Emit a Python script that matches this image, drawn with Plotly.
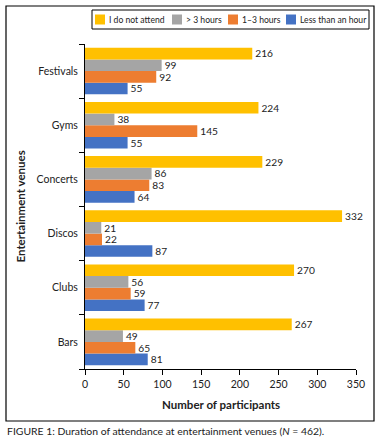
import plotly.graph_objects as go

venues = ["Festivals", "Gyms", "Concerts", "Discos", "Clubs", "Bars"]
series_names = ["I do not attend", "> 3 hours", "1\u20133 hours", "Less than an hour"]
not_attend = [216, 224, 229, 332, 270, 267]
over3 = [99, 38, 86, 21, 56, 49]
one_to_three = [92, 145, 83, 22, 59, 65]
less_hour = [55, 55, 64, 87, 77, 81]
x_ticks = [0, 50, 100, 150, 200, 250, 300, 350]

colors = ["#FFC000", "#A5A5A5", "#ED7D31", "#4472C4"]
values = [not_attend, over3, one_to_three, less_hour]

W, H = 382, 441
L, R, T, B = 85, 26, 44, 72
pw, ph = W - L - R, H - T - B

def px_x(p):
    return (p - L) / pw

def px_y(p):
    return (H - B - p) / ph

FONT = "Lato, Carlito, 'Open Sans', sans-serif"
TXT = "#222222"

fig = go.Figure()
# plotly draws first trace at bottom of each group -> add in reverse
for name, vals, col in reversed(list(zip(series_names, values, colors))):
    fig.add_trace(go.Bar(
        y=venues, x=vals, name=name, orientation="h",
        marker=dict(color=col, line=dict(width=0)),
        text=[str(v) for v in vals], textposition="outside",
        textfont=dict(size=10.5, color=TXT, family=FONT),
        cliponaxis=False, showlegend=False,
    ))

shapes = [dict(
    type="rect", xref="paper", yref="paper",
    x0=px_x(6), x1=px_x(374), y0=px_y(421), y1=px_y(6),
    line=dict(color="black", width=1.2), fillcolor="rgba(0,0,0,0)", layer="below",
), dict(
    type="rect", xref="paper", yref="paper",
    x0=px_x(92), x1=px_x(369), y0=px_y(29), y1=px_y(10),
    line=dict(color="black", width=1), fillcolor="rgba(0,0,0,0)",
)]
annotations = []
legend_sq_x = [95, 172, 228, 286]
for name, col, sx in zip(series_names, colors, legend_sq_x):
    shapes.append(dict(
        type="rect", xref="paper", yref="paper",
        x0=px_x(sx), x1=px_x(sx + 10), y0=px_y(24.5), y1=px_y(14.5),
        line=dict(width=0), fillcolor=col,
    ))
    annotations.append(dict(
        text=name, xref="paper", yref="paper", x=px_x(sx + 12), y=px_y(19.5),
        xanchor="left", yanchor="middle", showarrow=False,
        font=dict(size=8.6, family=FONT, color=TXT),
    ))

annotations += [
    dict(text="<b>Number of participants</b>", xref="paper", yref="paper",
         x=0.5, y=px_y(404), xanchor="center", yanchor="middle",
         showarrow=False, font=dict(size=11.5, family=FONT, color=TXT)),
    dict(text="<b>Entertainment venues</b>", xref="paper", yref="paper",
         x=px_x(20), y=0.5, xanchor="center", yanchor="middle", textangle=-90,
         showarrow=False, font=dict(size=11.5, family=FONT, color=TXT)),
    dict(text="FIGURE 1: Duration of attendance at entertainment venues (<i>N</i> = 462).",
         xref="paper", yref="paper", x=px_x(5), y=px_y(431),
         xanchor="left", yanchor="middle", showarrow=False,
         font=dict(size=10.4, family=FONT, color=TXT)),
]

fig.update_layout(
    width=W, height=H,
    margin=dict(l=L, r=R, t=T, b=B, autoexpand=False),
    barmode="group", bargap=0.14, bargroupgap=0,
    plot_bgcolor="white", paper_bgcolor="white",
    font=dict(family=FONT, size=10.5, color=TXT),
    showlegend=False,
    xaxis=dict(
        range=[0, 350], tickvals=x_ticks, showgrid=False, zeroline=False,
        showline=True, linecolor="black", linewidth=1,
        ticks="outside", ticklen=5, tickcolor="black",
        tickfont=dict(size=10.5), fixedrange=True, automargin=False,
    ),
    yaxis=dict(
        categoryorder="array", categoryarray=list(reversed(venues)),
        showgrid=False, showline=True, linecolor="black", linewidth=1,
        ticks="outside", ticklen=5, tickcolor="black", tickson="boundaries",
        tickfont=dict(size=10.5), ticklabelstandoff=4, automargin=False,
        fixedrange=True,
    ),
    shapes=shapes,
    annotations=annotations,
)

fig.write_html("out.html", config={"displayModeBar": False},
               post_script="document.body.style.margin='0';")
